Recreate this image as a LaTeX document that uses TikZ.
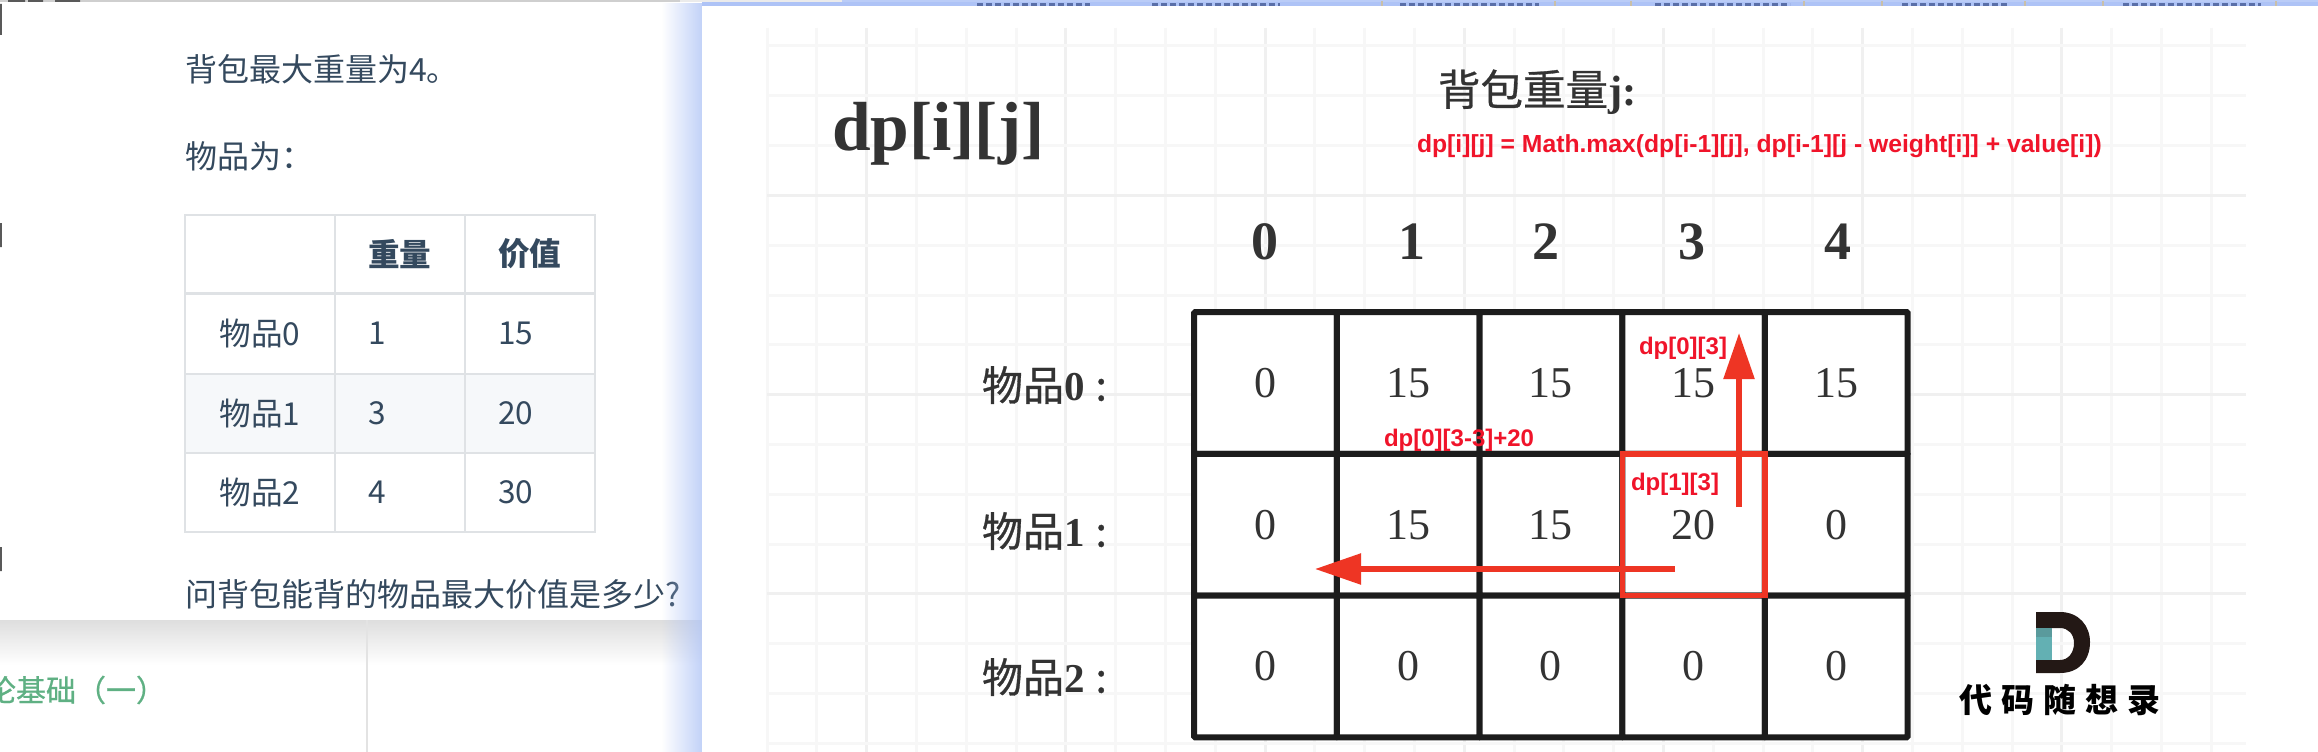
\documentclass[tikz,border=0pt]{standalone}
\usepackage{fontspec}
\setmainfont{Liberation Serif}
\newfontfamily\cjk{Noto Sans CJK SC}
\newfontfamily\cjkmid[FakeBold=0.7]{Noto Sans CJK SC}
\newfontfamily\arialf{Liberation Sans}
\usetikzlibrary{arrows.meta,fadings}
\newcommand\pxs[1]{\fontsize{#1}{#1}\selectfont}
\definecolor{ink}{HTML}{34495E}
\definecolor{hair}{HTML}{DFE2E5}
\definecolor{stripe}{HTML}{F6F8FA}
\definecolor{gridmin}{HTML}{F7F7F7}
\definecolor{gridmaj}{HTML}{F0F0F0}
\definecolor{tline}{HTML}{1C1C1C}
\definecolor{boxred}{HTML}{EE3524}
\definecolor{txtred}{HTML}{F0142A}
\definecolor{head}{HTML}{333333}
\definecolor{bluesh}{HTML}{AEC3F6}
\definecolor{greentxt}{HTML}{5FB083}
\definecolor{logoteal}{HTML}{63B0B3}
\definecolor{logotealdk}{HTML}{5A9A9C}
\definecolor{logodark}{HTML}{231815}
\definecolor{navmark}{HTML}{5A6FA8}
\definecolor{navtan}{HTML}{C9BFA8}
\tikzset{
 x=1pt,y=-1pt,
 nonum/.style={inner sep=0pt,outer sep=0pt},
 leftline/.style={nonum,anchor=west,text=ink,font={\cjk\pxs{32}}},
 tcell/.style={draw=hair,line width=2pt,inner ysep=0pt,inner xsep=33pt,align=left,text=ink,font={\cjk\pxs{31.6}},minimum height=#1},
 cellbox/.style={draw=tline,line width=6pt,fill=white,rounded corners=1pt,nonum,minimum width=142.7pt,minimum height=141.7pt,text=head,font={\pxs{44}}},
 colhead/.style={nonum,text=head,font={\bfseries\pxs{54}}},
 rowhead/.style={nonum,anchor=west,text=head,font={\cjkmid\pxs{41}}},
 redlabel/.style={nonum,anchor=west,text=txtred,font={\arialf\bfseries\pxs{#1}}},
 redarrow/.style={draw=boxred,line width=5.5pt,-{Triangle[length=46pt,width=30pt]}},
}
\begin{document}
\begin{tikzpicture}
\useasboundingbox (0,0) rectangle (2318,752);
\clip (0,0) rectangle (2318,752);
\fill[white] (0,0) rectangle (2318,752);
% page behind the card
\shade[top color=black!13,bottom color=white] (0,620) rectangle (702,665);
\draw[black!11,line width=1.2pt] (367,620) -- (367,752);
\node[nonum,anchor=west,text=greentxt,font={\cjkmid\pxs{30}}] (sect) at (-14,690) {论基础（一）};
% card top and left edge
\fill[black!19] (0,0) rectangle (842,2);
\fill[black!65] (8,0) rectangle (25,2) (28,0) rectangle (43,2) (55,0) rectangle (80,2);
\fill[black!65] (0,4) rectangle (2,35) (0,223) rectangle (2,247) (0,547) rectangle (2,571);
\fill[white] (2,2) rectangle (702,620);
\node[leftline] (l1) at (185,69) {背包最大重量为4。};
\node[leftline] (l2) at (185,156) {物品为：};
\node[leftline] (l3) at (185,594) {问背包能背的物品最大价值是多少?};
% left table
\fill[stripe] (185,373.6) rectangle (595,453);
\node[tcell=78.5pt,minimum width=150pt,text width=84pt] (t00) at (260,254) {};
\node[tcell=78.5pt,minimum width=130pt,text width=64pt] (t01) at (400,254) {\bfseries 重量};
\node[tcell=78.5pt,minimum width=130pt,text width=64pt] (t02) at (530,254) {\bfseries 价值};
\node[tcell=80pt,minimum width=150pt,inner xsep=34.5pt,text width=81pt] (t10) at (260,333.6) {物品0};
\node[tcell=80pt,minimum width=130pt,text width=64pt] (t11) at (400,333.6) {1};
\node[tcell=80pt,minimum width=130pt,text width=64pt] (t12) at (530,333.6) {15};
\node[tcell=79.4pt,minimum width=150pt,inner xsep=34.5pt,text width=81pt] (t20) at (260,413.3) {物品1};
\node[tcell=79.4pt,minimum width=130pt,text width=64pt] (t21) at (400,413.3) {3};
\node[tcell=79.4pt,minimum width=130pt,text width=64pt] (t22) at (530,413.3) {20};
\node[tcell=79pt,minimum width=150pt,inner xsep=34.5pt,text width=81pt] (t30) at (260,492.5) {物品2};
\node[tcell=79pt,minimum width=130pt,text width=64pt] (t31) at (400,492.5) {4};
\node[tcell=79pt,minimum width=130pt,text width=64pt] (t32) at (530,492.5) {30};
% blue glow and top bar of the window behind the right panel
\fill[bluesh,path fading=west] (661.5,2) rectangle (715.5,752);
\fill[bluesh] (702,2) rectangle (2318,6);
\fill[black!8] (680,0) rectangle (842,2);
\fill[bluesh!85] (842,0) rectangle (2318,2);
\foreach \a/\b in {977/1090,1152/1280,1400/1539,1655/1790,1902/2007,2123/2261}
  \draw[color=navmark,line width=3pt,dash pattern=on 6pt off 3pt] (\a,4.5) -- (\b,4.5);
\foreach \a in {1382,1555,1631,1804,1882,2025,2103,2276}
  \draw[color=navtan,line width=1.5pt] (\a,6) -- (\a,1);
% right panel with paper grid
\fill[white] (702,6) rectangle (2318,752);
\foreach \k in {0,...,29}{
  \pgfmathsetmacro\gx{767+49.8*\k}
  \pgfmathtruncatemacro\maj{mod(\k+2,4)==0}
  \ifnum\maj=1 \draw[gridmaj,line width=3pt] (\gx,28) -- (\gx,752);
  \else \draw[gridmin,line width=3pt] (\gx,28) -- (\gx,752); \fi
}
\foreach \k in {0,...,14}{
  \pgfmathsetmacro\gy{46+49.8*\k}
  \pgfmathtruncatemacro\maj{mod(\k+1,4)==0}
  \ifnum\maj=1 \draw[gridmaj,line width=3pt] (767,\gy) -- (2246,\gy);
  \else \draw[gridmin,line width=3pt] (767,\gy) -- (2246,\gy); \fi
}
\node[nonum,anchor=west,text=head,font={\bfseries\pxs{69.5}}] (title) at (832,134) {dp[i][j]};
\node[nonum,anchor=west,text=head,font={\pxs{42.5}}] (cap) at (1438,92) {{\cjkmid 背包重量}{\bfseries j:}};
\node[redlabel=24.7] (formula) at (1417,146) {dp[i][j] = Math.max(dp[i-1][j], dp[i-1][j - weight[i]] + value[i])};
% column heads
\node[colhead] (c0) at (1265,242) {0};
\node[colhead] (c1) at (1412,242) {1};
\node[colhead] (c2) at (1546,242) {2};
\node[colhead] (c3) at (1692,242) {3};
\node[colhead] (c4) at (1838,242) {4};
% row heads
\node[rowhead] (r0) at (982,385) {物品{\rmfamily\bfseries 0}\hspace{11pt}:};
\node[rowhead] (r1) at (982,531) {物品{\rmfamily\bfseries 1}\hspace{11pt}:};
\node[rowhead] (r2) at (982,677) {物品{\rmfamily\bfseries 2}\hspace{11pt}:};
% dp table
\node[cellbox] (a00) at (1265.5,383) {0};
\node[cellbox] (a01) at (1408.2,383) {15};
\node[cellbox] (a02) at (1550.9,383) {15};
\node[cellbox] (a03) at (1693.6,383) {15};
\node[cellbox] (a04) at (1836.3,383) {15};
\node[cellbox] (a10) at (1265.5,524.7) {0};
\node[cellbox] (a11) at (1408.2,524.7) {15};
\node[cellbox] (a12) at (1550.9,524.7) {15};
\node[cellbox] (a13) at (1693.6,524.7) {20};
\node[cellbox] (a14) at (1836.3,524.7) {0};
\node[cellbox] (a20) at (1265.5,666.4) {0};
\node[cellbox] (a21) at (1408.2,666.4) {0};
\node[cellbox] (a22) at (1550.9,666.4) {0};
\node[cellbox] (a23) at (1693.6,666.4) {0};
\node[cellbox] (a24) at (1836.3,666.4) {0};
% highlight and arrows
\node[draw=boxred,line width=5.5pt,nonum,minimum width=142.7pt,minimum height=141.7pt] (hl) at (a13) {};
\coordinate (upfrom) at (1739,507);
\coordinate (upto) at (1739,333);
\coordinate (lfrom) at (1675,569);
\coordinate (lto) at (1315,569);
\draw[redarrow] (upfrom) -- (upto);
\draw[redarrow] (lfrom) -- (lto);
\node[redlabel=24] (lab1) at (1639,348) {dp[0][3]};
\node[redlabel=24] (lab2) at (1384,440) {dp[0][3-3]+20};
\node[redlabel=24] (lab3) at (1631,484) {dp[1][3]};
% logo
\fill[logodark,even odd rule] (2036,612) -- (2060,612) .. controls (2079,612) and (2090,626) .. (2090,642) .. controls (2090,660) and (2079,673) .. (2060,673) -- (2036,673) -- cycle
  (2036,628) -- (2060,628) .. controls (2068,628) and (2074,634) .. (2074,643) .. controls (2074,653) and (2068,660) .. (2060,660) -- (2036,660) -- cycle;
\fill[logoteal] (2036,628) rectangle (2052,660);
\fill[logotealdk] (2036,628) rectangle (2052,637);
\node[nonum,text=black,font={\cjk\bfseries\pxs{33}}] (logo) at (2060,700) {代\hspace{9pt}码\hspace{9pt}随\hspace{9pt}想\hspace{9pt}录};
\end{tikzpicture}
\end{document}
